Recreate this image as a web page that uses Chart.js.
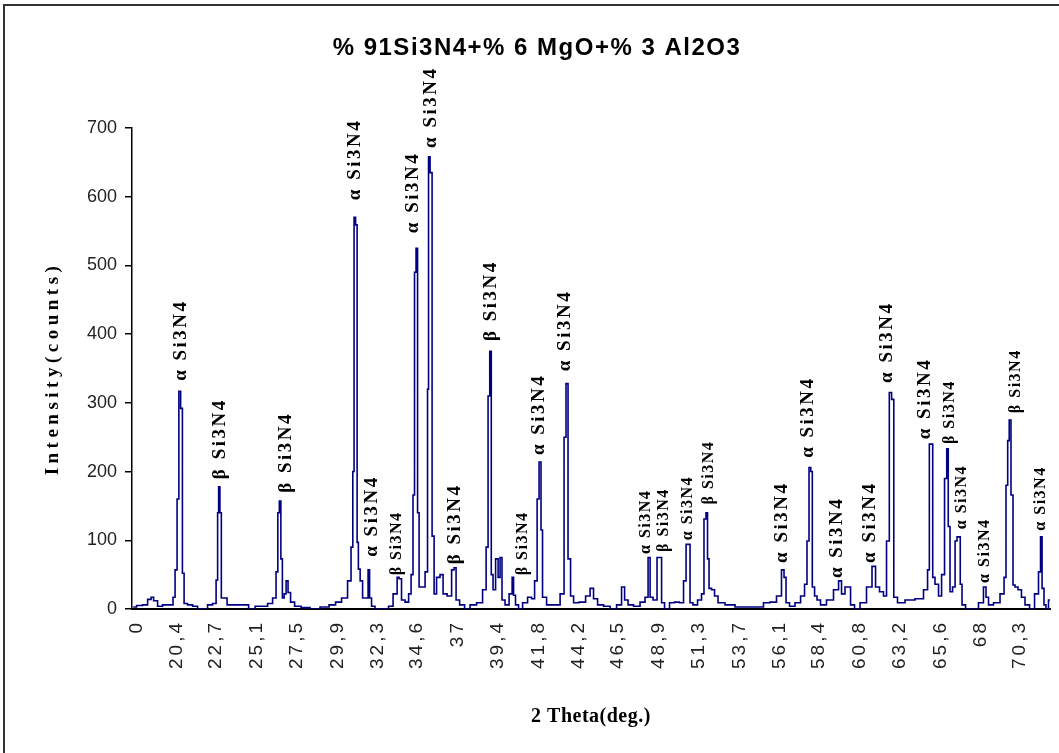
<!DOCTYPE html>
<html>
<head>
<meta charset="utf-8">
<script src="https://cdn.jsdelivr.net/npm/chart.js@4.4.1/dist/chart.umd.min.js"></script>
<style>
  html, body { margin: 0; padding: 0; background: #fff; }
  canvas { display: block; }
</style>
</head>
<body>
<canvas id="xrd" width="1059" height="753"></canvas>
<script>
'use strict';

const TITLE = '% 91Si3N4+% 6 MgO+% 3 Al2O3';
const Y_TITLE = 'Intensity(counts)';
const X_TITLE = '2 Theta(deg.)';

// 2θ (deg) / intensity (counts)
const twoTheta = [
  17.79, 18.20, 18.50, 18.79, 18.91, 19.09, 19.38, 19.68, 20.09, 20.21, 20.33, 20.45, 20.54, 20.66, 20.75, 20.86,
  21.16, 21.46, 21.75, 22.05, 22.34, 22.64, 22.76, 22.82, 22.88, 22.97, 23.05, 23.29, 23.41, 23.82, 24.42, 24.83,
  25.19, 25.60, 25.90, 26.19, 26.31, 26.40, 26.49, 26.58, 26.67, 26.79, 26.90, 27.02, 27.20, 27.50, 27.97, 28.56,
  29.15, 29.63, 29.92, 30.34, 30.63, 30.75, 30.84, 30.90, 31.02, 31.08, 31.17, 31.29, 31.46, 31.64, 31.76, 31.82,
  31.99, 32.23, 32.82, 33.00, 33.36, 33.48, 33.59, 33.77, 34.01, 34.19, 34.30, 34.42, 34.48, 34.60, 34.66, 34.78,
  34.96, 35.19, 35.25, 35.31, 35.43, 35.55, 35.67, 35.84, 36.08, 36.20, 36.56, 36.73, 36.85, 36.97, 37.27, 37.56,
  37.92, 38.33, 38.63, 38.75, 38.86, 38.95, 39.04, 39.16, 39.34, 39.46, 39.57, 39.69, 39.93, 40.17, 40.29, 40.34,
  40.52, 40.70, 41.00, 41.29, 41.47, 41.65, 41.77, 41.88, 42.00, 42.06, 42.48, 42.89, 43.25, 43.36, 43.48, 43.60,
  43.78, 43.96, 44.43, 44.73, 44.96, 45.14, 45.44, 45.85, 46.21, 46.62, 46.80, 46.98, 47.21, 47.63, 47.98, 48.22,
  48.34, 48.46, 48.69, 48.93, 49.05, 49.11, 49.40, 49.70, 49.99, 50.29, 50.47, 50.59, 50.71, 50.82, 51.06, 51.36,
  51.53, 51.65, 51.77, 51.83, 51.95, 52.13, 52.30, 52.54, 53.13, 53.73, 54.32, 54.91, 55.32, 55.68, 56.09, 56.27,
  56.39, 56.51, 56.80, 57.16, 57.46, 57.63, 57.75, 57.87, 57.96, 58.05, 58.23, 58.34, 58.64, 59.05, 59.47, 59.65,
  59.82, 60.06, 60.18, 60.36, 60.65, 61.01, 61.42, 61.66, 61.84, 62.13, 62.31, 62.49, 62.64, 62.76, 62.90, 63.20,
  63.79, 64.38, 64.80, 64.86, 65.01, 65.12, 65.15, 65.39, 65.57, 65.75, 65.92, 66.01, 66.10, 66.22, 66.40, 66.52,
  66.63, 66.72, 66.81, 66.93, 67.23, 67.64, 68.05, 68.23, 68.35, 68.53, 68.94, 69.30, 69.42, 69.53, 69.62, 69.71,
  69.83, 69.95, 70.07, 70.30, 70.48, 70.72, 71.02, 71.31, 71.49, 71.55, 71.67, 71.78, 71.90, 72.08
];
const counts = [
  3, 5, 6, 14, 17, 12, 4, 6, 6, 17, 57, 160, 317, 292, 52, 8,
  6, 4, 0, 0, 6, 8, 42, 140, 178, 140, 16, 16, 6, 6, 6, 0,
  4, 4, 8, 16, 54, 140, 157, 73, 16, 22, 41, 24, 10, 4, 2, 0,
  3, 6, 10, 16, 41, 90, 200, 570, 559, 97, 58, 41, 16, 16, 57, 16,
  4, 0, 0, 4, 22, 46, 44, 13, 10, 22, 50, 166, 490, 525, 140, 32,
  32, 54, 320, 658, 635, 106, 22, 46, 50, 22, 19, 57, 60, 13, 6, 0,
  6, 9, 28, 90, 310, 375, 50, 28, 73, 46, 75, 13, 6, 22, 46, 20,
  6, 0, 9, 17, 15, 41, 160, 214, 115, 17, 6, 6, 22, 250, 328, 73,
  19, 9, 10, 19, 30, 15, 6, 4, 0, 6, 32, 13, 6, 4, 10, 17,
  75, 17, 13, 75, 75, 9, 0, 9, 10, 9, 41, 94, 94, 9, 6, 13,
  22, 131, 140, 73, 30, 28, 19, 9, 6, 3, 3, 3, 9, 10, 19, 57,
  46, 9, 4, 9, 19, 36, 99, 206, 200, 32, 19, 13, 6, 13, 28, 41,
  22, 32, 32, 6, 0, 9, 32, 62, 32, 25, 19, 99, 315, 305, 17, 9,
  13, 15, 28, 57, 240, 240, 46, 36, 19, 50, 190, 233, 120, 25, 32, 99,
  105, 105, 36, 6, 0, 0, 9, 32, 17, 6, 9, 22, 46, 180, 245, 275,
  166, 35, 32, 28, 17, 6, 0, 22, 54, 105, 30, 6, 0, 13
];

// category labels printed under the axis and where they sit
const tickPos = [18.02, 20.4, 22.7, 25.1, 27.5, 29.9, 32.3, 34.6, 37, 39.4, 41.8, 44.2,
  46.5, 48.9, 51.3, 53.7, 56.1, 58.4, 60.8, 63.2, 65.6, 68, 70.3];
const tickLabels = ['0', '20,4', '22,7', '25,1', '27,5', '29,9', '32,3', '34,6', '37', '39,4', '41,8', '44,2',
  '46,5', '48,9', '51,3', '53,7', '56,1', '58,4', '60,8', '63,2', '65,6', '68', '70,3'];

// phase tags over the reflections
const tagTheta = [20.63, 22.94, 26.84, 30.93, 31.94, 33.42, 34.36, 35.43, 36.85, 38.98, 40.88, 41.82, 43.36,
  48.16, 49.23, 50.65, 51.86, 56.21, 57.75, 59.47, 61.42, 62.43, 64.68, 66.16, 66.87, 68.23, 70.07, 71.55];
const tagCounts = [332, 189, 169, 595, 76, 49, 547, 671, 65, 390, 49, 224, 346,
  80, 83, 100, 152, 67, 220, 45, 67, 329, 247, 240, 116, 38, 285, 114];
const tagPhase = ['α', 'β', 'β', 'α', 'α', 'β', 'α', 'α', 'β', 'β', 'β', 'α', 'α',
  'α', 'β', 'α', 'β', 'α', 'α', 'α', 'α', 'α', 'α', 'β', 'α', 'α', 'β', 'α'];

const INK = '#000080';
const SANS = '"Liberation Sans", Arial, sans-serif';
const SERIF = '"Liberation Serif", "Times New Roman", serif';
const SMALL_TAGS = new Set([5, 10, 13, 14, 15, 16, 23, 24, 25, 26, 27]);

const decor = {
  id: 'decor',
  beforeDraw(chart) {
    const c = chart.ctx;
    c.save();
    c.fillStyle = '#fff';
    c.fillRect(0, 0, chart.width, chart.height);
    c.strokeStyle = '#333';
    c.lineWidth = 2;
    c.strokeRect(4, 5, chart.width + 20, chart.height + 20);
    c.restore();
    // the rotated category labels are drawn with wide letter gaps
    c.letterSpacing = '3px';
  },
  beforeDatasetsDraw(chart) { chart.ctx.letterSpacing = '0px'; },
  afterDraw(chart) {
    const c = chart.ctx, a = chart.chartArea, xs = chart.scales.x, ys = chart.scales.y;
    c.save();
    c.fillStyle = '#000';
    c.textBaseline = 'middle';

    c.font = 'bold 24px ' + SANS;
    c.letterSpacing = '1.5px';
    c.textAlign = 'center';
    c.fillText(TITLE, 537, 48);

    c.font = 'bold 20px ' + SERIF;
    c.letterSpacing = '0.5px';
    c.fillText(X_TITLE, (a.left + a.right) / 2, 717);

    c.save();
    c.translate(53, (a.top + a.bottom) / 2);
    c.rotate(-Math.PI / 2);
    c.font = 'bold 19px ' + SERIF;
    c.letterSpacing = '4.5px';
    c.fillText(Y_TITLE, 0, 0);
    c.restore();

    c.textAlign = 'left';
    tagTheta.forEach((t, i) => {
      const small = SMALL_TAGS.has(i);
      c.save();
      c.translate(xs.getPixelForValue(t), ys.getPixelForValue(tagCounts[i]));
      c.rotate(-Math.PI / 2);
      c.font = 'bold ' + (small ? 16 : 19) + 'px ' + SERIF;
      c.letterSpacing = small ? '1.5px' : '2.5px';
      c.fillText(tagPhase[i] + ' Si3N4', 0, 0);
      c.restore();
    });
    c.restore();
  }
};

new Chart(document.getElementById('xrd').getContext('2d'), {
  type: 'line',
  data: {
    datasets: [{
      data: twoTheta.map((t, i) => ({ x: t, y: counts[i] })),
      borderColor: INK, borderWidth: 1.6, pointRadius: 0, stepped: 'middle', fill: false
    }]
  },
  options: {
    responsive: false,
    animation: false,
    layout: { padding: { top: 128, right: 9, left: 0, bottom: 0 } },
    plugins: { legend: { display: false }, tooltip: { enabled: false }, title: { display: false } },
    scales: {
      x: {
        type: 'linear', min: 17.72, max: 72.08, bounds: 'data',
        afterBuildTicks: axis => { axis.ticks = tickPos.map(v => ({ value: v })); },
        afterFit: axis => { axis.height = 144; },
        ticks: {
          autoSkip: false, minRotation: 90, maxRotation: 90, padding: 11, color: '#222',
          font: { family: SANS, size: 19 },
          callback: (v, i) => tickLabels[i]
        },
        grid: { display: false, drawTicks: false },
        border: { color: '#000', width: 2 }
      },
      y: {
        min: 0, max: 700,
        afterFit: axis => { axis.width = 132; },
        ticks: { stepSize: 100, padding: 8, color: '#222', font: { family: SANS, size: 18 }, z: 1 },
        grid: { drawOnChartArea: false, drawTicks: true, tickLength: 7, color: '#000', lineWidth: 1.5 },
        border: { color: '#000', width: 1.5 }
      }
    }
  },
  plugins: [decor]
});
</script>
</body>
</html>
